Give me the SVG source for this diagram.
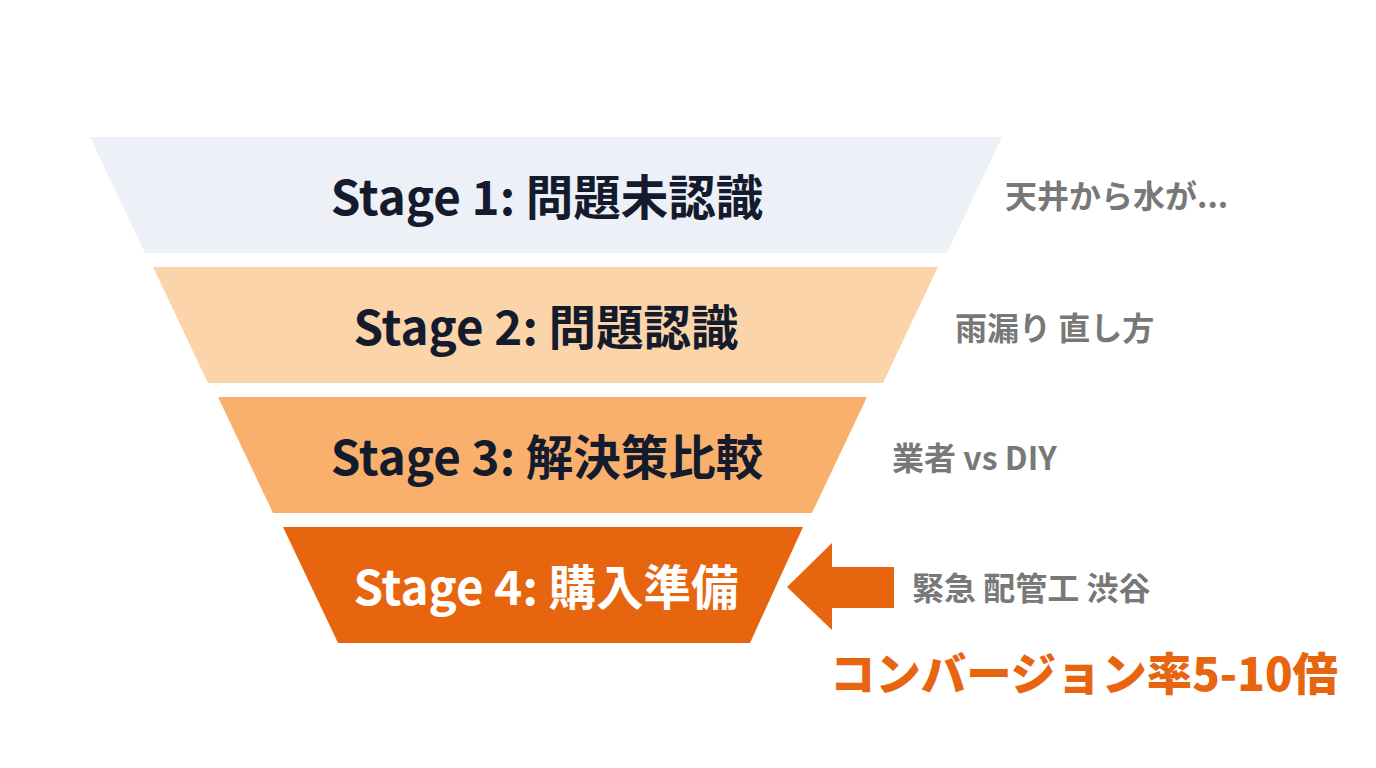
<svg xmlns="http://www.w3.org/2000/svg" width="1376" height="768" viewBox="0 0 1376 768">
<style>
.stage{font-family:"Noto Sans CJK JP","Noto Sans",sans-serif;font-weight:700;font-size:47.5px;fill:#131b2d;text-anchor:middle}
.note{font-family:"Noto Sans CJK JP","Noto Sans",sans-serif;font-weight:700;font-size:32px;fill:#787878}
.big{font-family:"Noto Sans CJK JP","Noto Sans",sans-serif;font-weight:900;font-size:45.4px;fill:#e8650f}
</style>
<rect width="1376" height="768" fill="#ffffff"/>
<g id="stage1">
<polygon points="90,137 1002,137 947,253 145,253" fill="#edf0f6"/>
<text class="stage" x="547" y="215">Stage 1: 問題未認識</text>
</g>
<g id="stage2">
<polygon points="153,267 938,267 883,383 208,383" fill="#fcd4a9"/>
<text class="stage" x="546" y="345">Stage 2: 問題認識</text>
</g>
<g id="stage3">
<polygon points="218,397 867,397 812,513 273,513" fill="#f9b06c"/>
<text class="stage" x="547" y="475">Stage 3: 解決策比較</text>
</g>
<g id="stage4">
<polygon points="283,527 803,527 750,643 338,643" fill="#e8650f"/>
<text class="stage" x="546" y="605" style="fill:#ffffff">Stage 4: 購入準備</text>
</g>
<g id="note1"><text class="note" x="1005" y="208">天井から水が...</text></g>
<g id="note2"><text class="note" x="955" y="340">雨漏り 直し方</text></g>
<g id="note3"><text class="note" x="892" y="470">業者 vs DIY</text></g>
<g id="note4"><text class="note" x="912" y="600">緊急 配管工 渋谷</text></g>
<g id="connectors">
<polygon points="787,587 832,543 832,567 894,567 894,608 832,608 832,630" fill="#e8650f"/>
</g>
<g id="conversion"><text class="big" x="830" y="691">コンバージョン率5-10倍</text></g>
</svg>
